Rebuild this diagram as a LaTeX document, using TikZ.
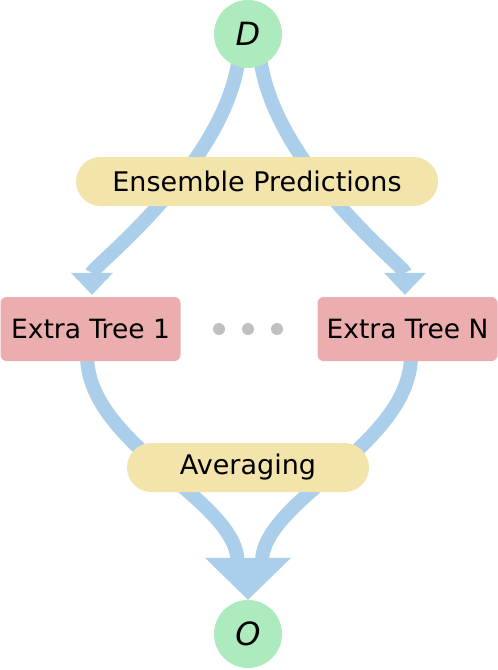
\documentclass[tikz,border=0pt]{standalone}
\usepackage{fontspec}
\setmainfont{DejaVu Sans}
\usetikzlibrary{arrows.meta,backgrounds,calc}
\definecolor{flowblue}{RGB}{171,207,235}
\definecolor{circgreen}{RGB}{173,235,190}
\definecolor{pillyellow}{RGB}{243,228,171}
\definecolor{treepink}{RGB}{235,173,173}
\definecolor{dotgrey}{RGB}{192,192,192}
\begin{document}
\begin{tikzpicture}[x=1pt,y=-1pt,
  flow/.style={draw=flowblue,line width=14pt},
  smallhead/.style={-{Triangle[width=42pt,length=22pt,line width=0pt]}},
  circ/.style={circle,fill=circgreen,minimum size=68pt,inner sep=0pt,font=\fontsize{32}{36}\selectfont\itshape},
  pill/.style={fill=pillyellow,rounded corners=24.5pt,minimum height=49pt,inner sep=0pt,font=\fontsize{27}{30}\selectfont},
  treebox/.style={fill=treepink,rounded corners=6pt,minimum height=64pt,minimum width=180pt,inner sep=0pt,font=\fontsize{26.5}{30}\selectfont},
  dotnode/.style={circle,fill=dotgrey,minimum size=12pt,inner sep=0pt}]
\useasboundingbox (0,0) rectangle (498,670);
\node[circ] (D) at (248,34) {D};
\node[pill,minimum width=362pt] (E) at (257,181.5) {Ensemble Predictions};
\node[treebox] (T1) at (90.5,329) {Extra Tree 1};
\node[treebox] (TN) at (407.5,329) {Extra Tree N};
\node[dotnode] (d1) at (219,329) {};
\node[dotnode] (d2) at (248,329) {};
\node[dotnode] (d3) at (277,329) {};
\node[pill,minimum width=242pt] (A) at (248,467.5) {Averaging};
\node[circ] (O) at (248,634) {O};
\coordinate (hl) at ($(O.north)+(-10.5,-38)$);
\coordinate (hr) at ($(O.north)+(14,-38)$);
\begin{scope}[on background layer]
\draw[flow,smallhead] ($(D.center)+(-8,6)$) .. controls ($(D.center)+(-8,120)$) and ($(T1.north)+(1.5,-30)$) .. ($(T1.north)+(1.5,-2)$);
\draw[flow,smallhead] ($(D.center)+(11,6)$) .. controls ($(D.center)+(11,120)$) and ($(TN.north)+(-2.5,-30)$) .. ($(TN.north)+(-2.5,-2)$);
\draw[flow] ($(T1.south)+(-3.5,-6)$) .. controls ($(T1.south)+(-3.5,84)$) and ($(hl)+(0,-62)$) .. (hl);
\draw[flow] ($(TN.south)+(3.5,-6)$) .. controls ($(TN.south)+(3.5,84)$) and ($(hr)+(0,-62)$) .. (hr);
\fill[flowblue] ($(O.north)+(-43,-42)$) -- ($(O.north)+(43,-42)$) -- (O.north) -- cycle;
\end{scope}
\end{tikzpicture}
\end{document}
